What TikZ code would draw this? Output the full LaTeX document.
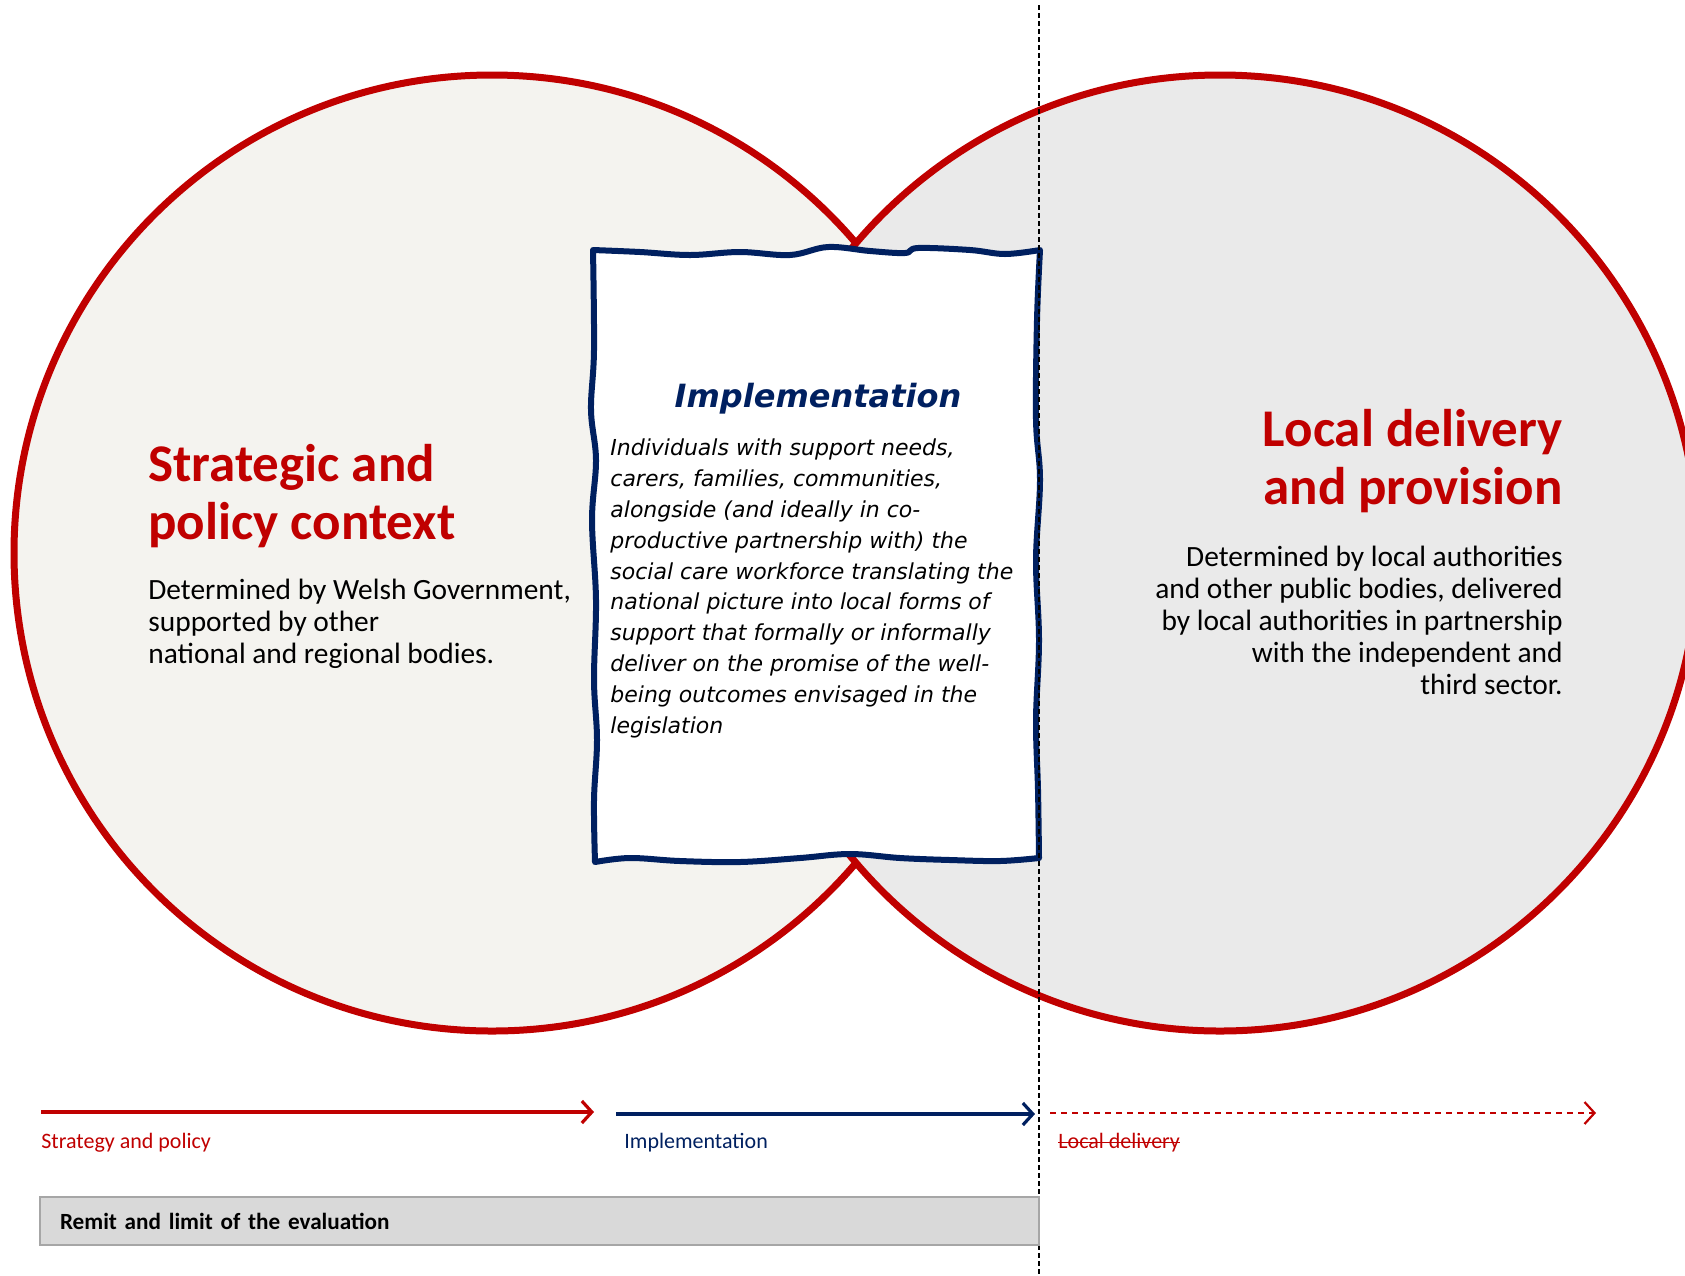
\documentclass[tikz,border=0pt]{standalone}
\usepackage{fontspec}
\setmainfont{Carlito}
\newfontfamily\handfont{DejaVu Sans}
\usetikzlibrary{arrows.meta,positioning}

\definecolor{policyred}{HTML}{C00000}
\definecolor{implblue}{HTML}{002060}
\definecolor{leftfill}{HTML}{F4F3EF}
\definecolor{rightfill}{HTML}{EAEAEA}
\definecolor{remitgrey}{HTML}{D9D9D9}
\definecolor{remitedge}{HTML}{A6A6A6}

\begin{document}
\begin{tikzpicture}[x=0.5pt,y=-0.5pt,>=Straight Barb,
    big circle/.style={circle,draw=policyred,line width=3.5pt,minimum size=478pt,inner sep=0pt},
    head text/.style={font=\fontsize{26.5}{29}\selectfont\bfseries,text=policyred,inner sep=0pt},
    body text/.style={font=\fontsize{14.7}{16}\selectfont,inner sep=0pt},
    impl outline/.style={draw=implblue,fill=white,line width=3pt,line join=round},
    flow arrow/.style={line width=1.6pt,-{Straight Barb[length=5pt,width=11pt]}},
    flow label/.style={font=\fontsize{11}{13}\selectfont,inner sep=0pt,anchor=base west}]

    \useasboundingbox (0,0) rectangle (1685,1275);

    % the two circles
    \node[big circle,fill=leftfill] (strategy) at (492,553) {};
    \node[big circle,fill=rightfill] (delivery) at (1220,553) {};

    % left circle text (base = last line)
    \node[head text,anchor=base west,align=left] (strategy head) at (148,539) {Strategic and\\policy context};
    \node[body text,anchor=base west,align=left] (strategy body) at (148,663)
        {Determined by Welsh Government,\\supported by other\\national and regional bodies.};

    % right circle text
    \node[head text,anchor=base east,align=right] (delivery head) at (1563,504) {Local delivery\\and provision};
    \node[body text,anchor=base east,align=right] (delivery body) at (1563,694)
        {Determined by local authorities\\and other public bodies, delivered\\by local authorities in partnership\\with the independent and\\third sector.};

    % implementation box in the middle, hand drawn side by side
    \draw[impl outline]
        plot[smooth,tension=0.6] coordinates {(593,250) (640,252) (690,255) (740,252) (790,255) (828,247)
            (870,251) (905,253) (918,248) (970,250) (1005,254) (1040,250)}
        -- plot[smooth,tension=0.6] coordinates {(1040,250) (1037,320) (1036,420) (1040,480) (1036,560)
            (1039,640) (1036,720) (1038,790) (1039,858)}
        -- plot[smooth,tension=0.6] coordinates {(1039,858) (1000,861) (950,860) (900,858) (850,854)
            (800,858) (740,862) (680,861) (630,858) (595,862)}
        -- plot[smooth,tension=0.6] coordinates {(595,862) (594,800) (597,740) (594,680) (596,600)
            (592,520) (596,460) (591,410) (594,350) (593,250)}
        -- cycle;
    \node[font=\handfont\fontsize{16}{19}\selectfont\bfseries\itshape,text=implblue,anchor=base,inner sep=0pt]
        (impl head) at (818,407) {Implementation};
    \node[font=\handfont\fontsize{11}{15.4}\selectfont\itshape,anchor=base west,align=left,inner sep=0pt]
        (impl body) at (610,733)
        {Individuals with support needs,\\carers, families, communities,\\alongside (and ideally in co-\\productive partnership with) the\\social care workforce translating the\\national picture into local forms of\\support that formally or informally\\deliver on the promise of the well-\\being outcomes envisaged in the\\legislation};

    % limit of the evaluation
    \coordinate (limit top) at (1039,5);
    \coordinate (limit bottom) at (1039,1275);
    \draw[line width=0.6pt,dash pattern=on 2.5pt off 1.5pt] (limit top) -- (limit bottom);

    % flow along the bottom
    \coordinate (s start) at (41,1112);
    \coordinate (s end) at (594,1112);
    \coordinate (i start) at (616,1114);
    \coordinate (i end) at (1035,1114);
    \coordinate (l start) at (1050,1113);
    \coordinate (l end) at (1596,1113);
    \draw[flow arrow,policyred] (s start) -- (s end);
    \draw[flow arrow,implblue] (i start) -- (i end);
    \draw[flow arrow,policyred,line width=1.1pt,dash pattern=on 3pt off 2.5pt] (l start) -- (l end);
    \node[flow label,text=policyred] (s label) at (41,1148) {Strategy and policy};
    \node[flow label,text=implblue] (i label) at (624,1148) {Implementation};
    \node[flow label,text=policyred] (l label) at (1058,1148) {Local delivery};
    \draw[policyred,line width=0.6pt] ([yshift=2.7pt]l label.base west) -- ([yshift=2.7pt]l label.base east);

    \node[draw=remitedge,fill=remitgrey,line width=1pt,minimum width=499.5pt,minimum height=24pt,
        text width=479.5pt,inner xsep=10pt,align=left,font=\fontsize{11.6}{14}\selectfont\bfseries]
        (remit) at (539.5,1221) {Remit and limit of the evaluation};
\end{tikzpicture}
\end{document}
